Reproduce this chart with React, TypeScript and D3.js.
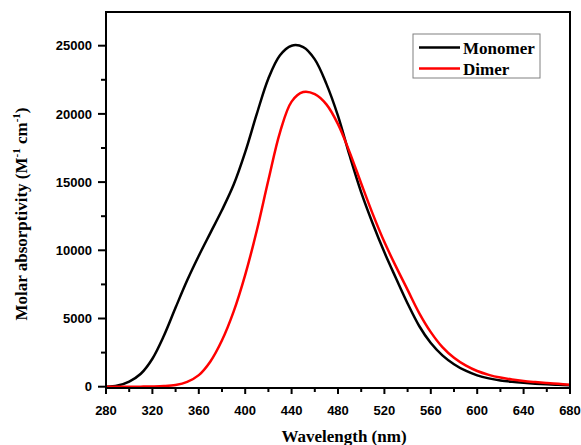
import React from "react";
import * as d3 from "d3";

const wavelengths = [280,290,300,310,320,330,340,350,360,370,380,390,400,410,420,430,440,450,460,470,480,490,500,510,520,530,540,550,560,570,580,590,600,610,620,630,640,650,660,670,680];
const monomer = [0,90,380,950,2050,3750,5800,7800,9600,11280,12950,14800,17200,20000,22600,24300,25000,24900,24000,22200,19850,16950,14250,11950,9850,7950,6100,4450,3200,2300,1650,1170,830,610,460,360,285,225,175,140,110];
const dimer = [0,0,0,5,15,45,130,360,850,1850,3400,5500,8200,11450,15150,18650,20900,21600,21450,20700,19250,17200,14900,12650,10600,8800,7100,5400,4000,2900,2120,1560,1150,870,670,530,420,340,270,210,150];
const xTicks = [280,320,360,400,440,480,520,560,600,640,680];
const yTicks = [0,5000,10000,15000,20000,25000];
const seriesNames = ["Monomer","Dimer"];
const seriesColors = ["#000000","#ff0000"];

export default function App() {
  const W = 581, H = 445;
  const left = 106, right = 570, top = 12, bottom = 388;
  const x = d3.scaleLinear().domain([280, 680]).range([left, right]);
  const y = d3.scaleLinear().domain([-95, 27470]).range([bottom, top]);
  const line = d3.line<number>()
    .x((_, i) => x(wavelengths[i]))
    .y((d) => y(d))
    .curve(d3.curveCatmullRom.alpha(0.5));
  const xMinor = d3.range(280, 681, 20).filter((v) => !xTicks.includes(v));
  const yMinor = d3.range(2500, 27500, 5000);
  const tickFont = "'Liberation Sans', Arial, sans-serif";
  const serif = "'Liberation Serif', 'Times New Roman', serif";
  const series = [monomer, dimer];
  return (
    <svg width={W} height={H} style={{ position: "absolute", left: 0, top: 0, background: "#fff" }}>
      <rect x={0} y={0} width={W} height={H} fill="#fff" />
      {series.map((s, i) => (
        <path key={i} d={line(s) || ""} fill="none" stroke={seriesColors[i]} strokeWidth={2.5} />
      ))}
      <rect x={left} y={top} width={right - left} height={bottom - top} fill="none" stroke="#000" strokeWidth={2} />
      {xTicks.map((t) => (
        <g key={"xt" + t}>
          <line x1={x(t)} x2={x(t)} y1={bottom} y2={bottom + 6} stroke="#000" strokeWidth={2} />
          <text x={x(t)} y={bottom + 27} textAnchor="middle" fontFamily={tickFont} fontWeight="bold" fontSize={13}>{t}</text>
        </g>
      ))}
      {xMinor.map((t) => (
        <line key={"xm" + t} x1={x(t)} x2={x(t)} y1={bottom} y2={bottom + 4} stroke="#000" strokeWidth={2} />
      ))}
      {yTicks.map((t) => (
        <g key={"yt" + t}>
          <line x1={left - 8} x2={left} y1={y(t)} y2={y(t)} stroke="#000" strokeWidth={2} />
          <text x={left - 14} y={y(t)} dy="0.36em" textAnchor="end" fontFamily={tickFont} fontWeight="bold" fontSize={13}>{t}</text>
        </g>
      ))}
      {yMinor.map((t) => (
        <line key={"ym" + t} x1={left - 5} x2={left} y1={y(t)} y2={y(t)} stroke="#000" strokeWidth={2} />
      ))}
      <text x={(left + right) / 2 + 6} y={442} textAnchor="middle" fontFamily={serif} fontWeight="bold" fontSize={17}>Wavelength (nm)</text>
      <text transform={`translate(27, 214) rotate(-90)`} textAnchor="middle" fontFamily={serif} fontWeight="bold" fontSize={17}>
        Molar absorptivity (M<tspan fontSize={11} dy={-7}>-1</tspan><tspan dy={7}> cm</tspan><tspan fontSize={11} dy={-7}>-1</tspan><tspan dy={7}>)</tspan>
      </text>
      <rect x={413} y={34} width={127} height={44} fill="#fff" stroke="#808080" strokeWidth={1} />
      {seriesNames.map((n, i) => (
        <g key={n}>
          <line x1={419} x2={460} y1={47.5 + i * 21} y2={47.5 + i * 21} stroke={seriesColors[i]} strokeWidth={2.5} />
          <text x={463} y={53.5 + i * 21} fontFamily={serif} fontWeight="bold" fontSize={17}>{n}</text>
        </g>
      ))}
    </svg>
  );
}
